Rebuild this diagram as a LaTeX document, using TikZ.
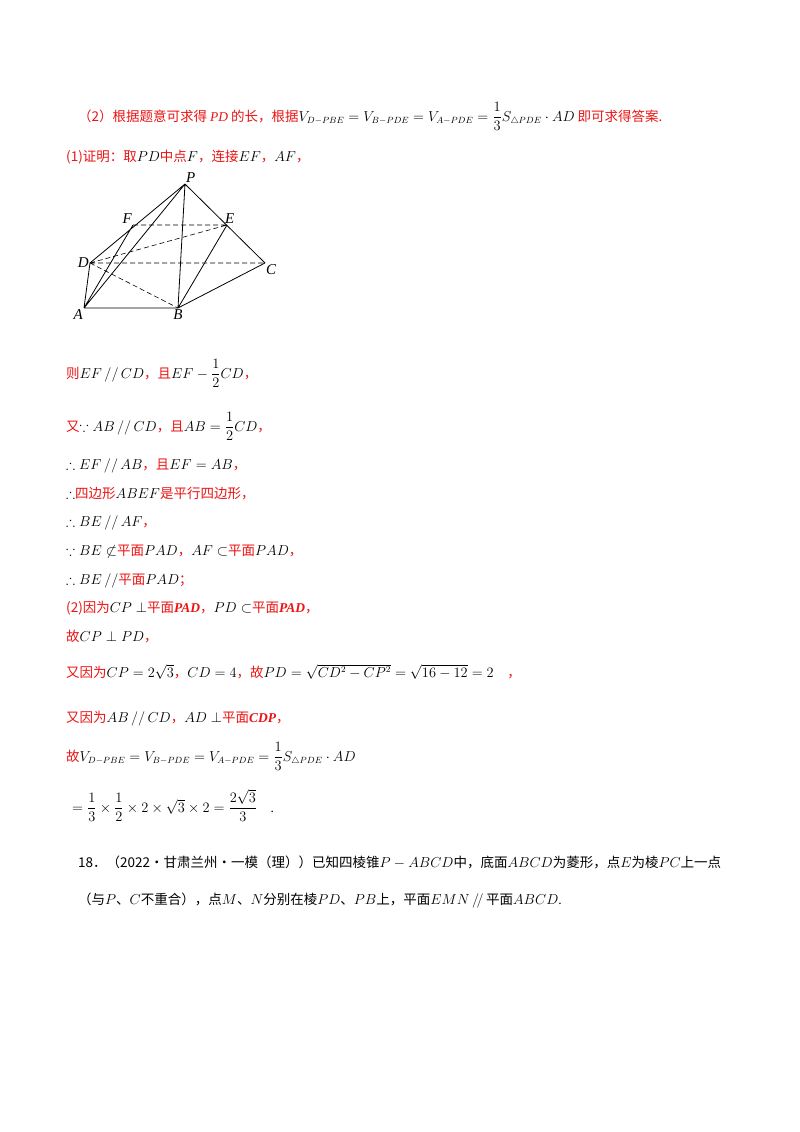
\documentclass[tikz,border=0pt]{standalone}
\usepackage{fontspec}
\usepackage{amsmath,amssymb}
\setmainfont{Liberation Serif}
\newfontfamily\cjk{Noto Sans CJK SC}
\definecolor{rd}{RGB}{235,20,20}
\newcommand{\R}[1]{{\color{rd}\cjk #1}}
\begin{document}
\begin{tikzpicture}[x=1pt,y=-1pt,
  t/.style={anchor=base west,inner sep=0pt,font=\fontsize{13.5}{16}\selectfont},
  lbl/.style={font=\itshape\fontsize{15}{17}\selectfont,inner sep=1pt},
  dsh/.style={dashed,dash pattern=on 5pt off 3pt}]
\useasboundingbox (0,0) rectangle (800,1132);
\fill[white] (0,0) rectangle (800,1132);
\node[t] (l1) at (78,121) {\R{（2）根据题意可求得 }{\color{rd}\itshape PD}\R{ 的长，根据}$V_{D-PBE}=V_{B-PDE}=V_{A-PDE}=\dfrac13S_{\triangle PDE}\cdot AD$\R{ 即可求得答案.}};
\node[t] (l2) at (66,161) {\R{(1)证明：取}$PD$\R{中点}$F$\R{，连接}$EF$\R{，}$AF$\R{，}};
% figure
\coordinate (P) at (185,184); \coordinate (F) at (133,225); \coordinate (E) at (227,225);
\coordinate (D) at (90,263); \coordinate (C) at (265,263); \coordinate (A) at (84,308); \coordinate (B) at (178,308);
\draw[line width=0.8pt] (P)--(D) (P)--(A) (P)--(B) (P)--(C) (F)--(A) (D)--(A) (A)--(B) (B)--(C) (B)--(E);
\draw[line width=0.6pt,dsh] (F)--(E) (D)--(E) (D)--(C) (D)--(B);
\node[lbl,above right] (nP) at (P) {P};
\node[lbl,above left] (nF) at (F) {F};
\node[lbl,above right,xshift=-3pt] (nE) at (E) {E};
\node[lbl,left] (nD) at (D) {D};
\node[lbl,below right] (nC) at (C) {C};
\node[lbl,below left] (nA) at (A) {A};
\node[lbl,below] (nB) at (B) {B};
\node[t] (l3) at (66,378) {\R{则}$EF\,//\,CD$\R{，且}$EF-\dfrac12CD$\R{，}};
\node[t] (l4) at (66,431) {\R{又}$\because AB\,//\,CD$\R{，且}$AB=\dfrac12CD$\R{，}};
\node[t] (l5) at (66,469) {$\therefore EF\,//\,AB$\R{，且}$EF=AB$\R{，}};
\node[t] (l6) at (66,498) {$\therefore$\R{四边形}$ABEF$\R{是平行四边形，}};
\node[t] (l7) at (66,526) {$\therefore BE\,//\,AF$\R{，}};
\node[t] (l8) at (66,555) {$\because BE\not\subset$\R{平面}$PAD$\R{，}$AF\subset$\R{平面}$PAD$\R{，}};
\node[t] (l9) at (66,584) {$\therefore BE\,//$\R{平面}$PAD$\R{；}};
\node[t] (l10) at (66,612) {\R{(2)因为}$CP\perp$\R{平面}{\color{rd}\bfseries\itshape PAD}\R{，}$PD\subset$\R{平面}{\color{rd}\bfseries\itshape PAD}\R{，}};
\node[t] (l11) at (66,641) {\R{故}$CP\perp PD$\R{，}};
\node[t] (l12) at (66,677) {\R{又因为}$CP=2\sqrt3$\R{，}$CD=4$\R{，故}$PD=\sqrt{CD^2-CP^2}=\sqrt{16-12}=2$\R{\quad ，}};
\node[t] (l13) at (66,722) {\R{又因为}$AB\,//\,CD$\R{，}$AD\perp$\R{平面}{\color{rd}\bfseries\itshape CDP}\R{，}};
\node[t] (l14) at (66,761) {\R{故}$V_{D-PBE}=V_{B-PDE}=V_{A-PDE}=\dfrac13S_{\triangle PDE}\cdot AD$};
\node[t] (l15) at (72,812) {$=\dfrac13\times\dfrac12\times2\times\sqrt3\times2=\dfrac{2\sqrt3}{3}$\quad .};
\node[t] (l16) at (78,867) {{\cjk 18．（2022·甘肃兰州·一模（理））已知四棱锥}$P-ABCD${\cjk 中，底面}$ABCD${\cjk 为菱形，点}$E${\cjk 为棱}$PC${\cjk 上一点}};
\node[t] (l17) at (78,904) {{\cjk （与}$P${\cjk 、}$C${\cjk 不重合），点}$M${\cjk 、}$N${\cjk 分别在棱}$PD${\cjk 、}$PB${\cjk 上，平面}$EMN\,/\!/\,${\cjk 平面}$ABCD$.};
\end{tikzpicture}
\end{document}
